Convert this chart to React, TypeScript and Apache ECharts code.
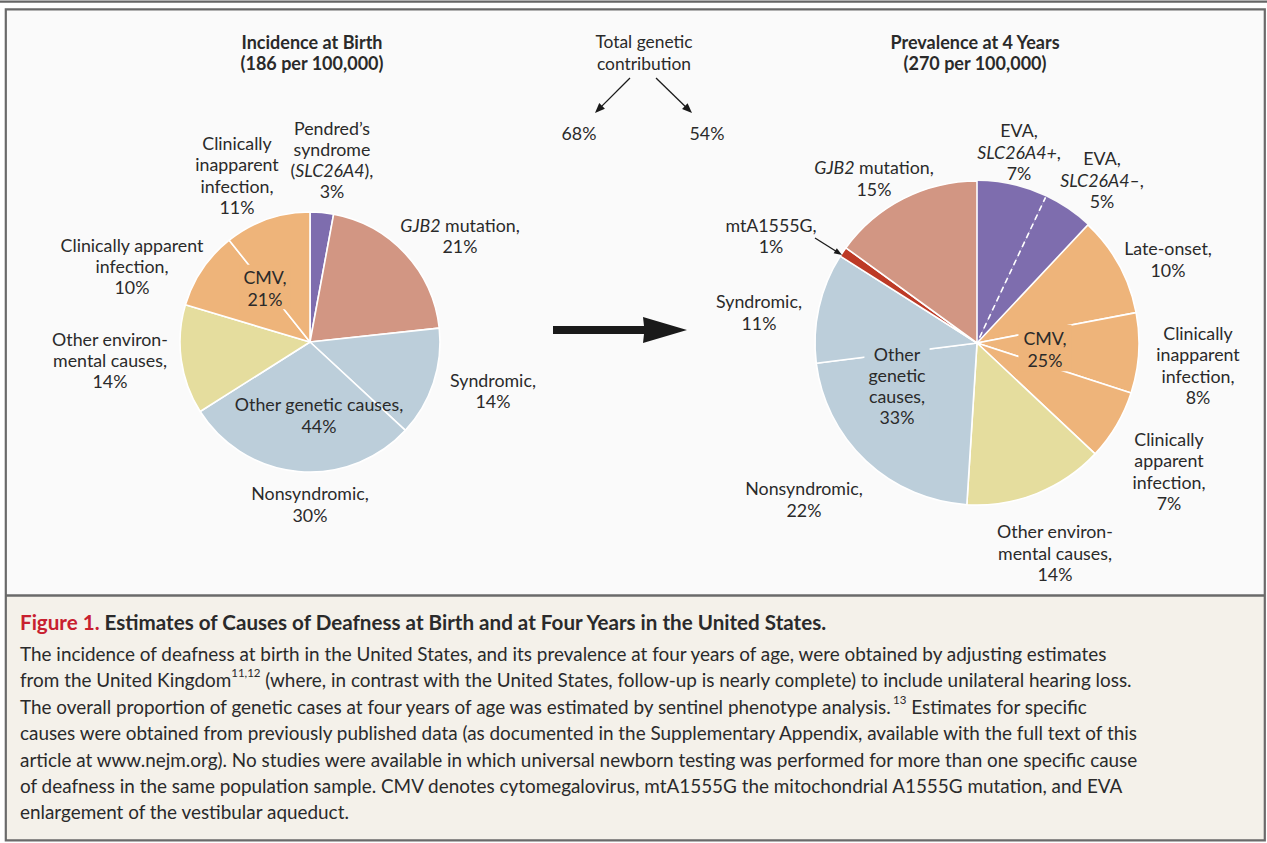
import React, { useEffect, useRef } from 'react';
import * as echarts from 'echarts';

const W = 1267;
const H = 843;
const FONT = 'Lato, "Open Sans", sans-serif';
const INK = '#2a2a2a';

// ---------- data ----------
const birthCategories = [
  'Pendred’s syndrome (SLC26A4)',
  'GJB2 mutation',
  'Syndromic',
  'Nonsyndromic',
  'Other environmental causes',
  'Clinically apparent infection',
  'Clinically inapparent infection',
];
const birthValues = [3, 21, 14, 30, 14, 10, 11];
const birthLabelLines = [
  ['Pendred’s', 'syndrome', '({i|SLC26A4}),'],
  ['{i|GJB2} mutation,'],
  ['Syndromic,'],
  ['Nonsyndromic,'],
  ['Other environ-', 'mental causes,'],
  ['Clinically apparent', 'infection,'],
  ['Clinically', 'inapparent', 'infection,'],
];
const birthGroupLabels = ['CMV,', 'Other genetic causes,'];
const birthGroupValues = [21, 44];

const yearCategories = [
  'EVA, SLC26A4+',
  'EVA, SLC26A4–',
  'Late-onset',
  'Clinically inapparent infection',
  'Clinically apparent infection',
  'Other environmental causes',
  'Nonsyndromic',
  'Syndromic',
  'mtA1555G',
  'GJB2 mutation',
];
const yearValues = [7, 5, 10, 8, 7, 14, 22, 11, 1, 15];
const yearLabelLines = [
  ['EVA,', '{i|SLC26A4+},'],
  ['EVA,', '{i|SLC26A4–},'],
  ['Late-onset,'],
  ['Clinically', 'inapparent', 'infection,'],
  ['Clinically', 'apparent', 'infection,'],
  ['Other environ-', 'mental causes,'],
  ['Nonsyndromic,'],
  ['Syndromic,'],
  ['mtA1555G,'],
  ['{i|GJB2} mutation,'],
];
const yearGroupLabels = ['CMV,', 'Other\ngenetic\ncauses,'];
const yearGroupValues = [25, 33];

const titles = ['Incidence at Birth\n(186 per 100,000)', 'Prevalence at 4 Years\n(270 per 100,000)'];
const totalGeneticLabel = 'Total genetic\ncontribution';
const totalGeneticValues = [68, 54];

const captionTitle = '{r|Figure 1.} Estimates of Causes of Deafness at Birth and at Four Years in the United States.';
const captionLines = [
  'The incidence of deafness at birth in the United States, and its prevalence at four years of age, were obtained by adjusting estimates',
  'from the United Kingdom{s|11,12} (where, in contrast with the United States, follow-up is nearly complete) to include unilateral hearing loss.',
  'The overall proportion of genetic cases at four years of age was estimated by sentinel phenotype analysis.{s|13} Estimates for specific',
  'causes were obtained from previously published data (as documented in the Supplementary Appendix, available with the full text of this',
  'article at www.nejm.org). No studies were available in which universal newborn testing was performed for more than one specific cause',
  'of deafness in the same population sample. CMV denotes cytomegalovirus, mtA1555G the mitochondrial A1555G mutation, and EVA',
  'enlargement of the vestibular aqueduct.',
];

// ---------- styles / layout ----------
const C = {
  purple: '#7E6DAE',
  salmon: '#D29683',
  blue: '#BCCEDA',
  yellow: '#E5DD9E',
  orange: '#EEB47A',
  red: '#BD3A26',
};
const birthColors = [C.purple, C.salmon, C.blue, C.blue, C.yellow, C.orange, C.orange];
const yearColors = [C.purple, C.purple, C.orange, C.orange, C.orange, C.yellow, C.blue, C.blue, C.red, C.salmon];

const birthPie = { cx: 310, cy: 342, r: 130 };
const yearPie = { cx: 977, cy: 343, r: 162 };

const birthLabelPos = [
  [332, 159.5], [460, 235.5], [493, 390.5], [310, 504], [110, 360], [132, 266], [237, 175],
];
const birthGroupPos = [[265, 287], [319, 415]];
const yearLabelPos = [
  [1019, 151.5], [1102, 179.5], [1168, 259], [1198, 365], [1169, 471], [1055, 552.5], [804, 499], [759, 312], [771, 235.5], [874, 178],
];
const yearGroupPos = [[1045, 348], [897, 385]];

const LH = 21.3;
const FS = 17.8;

const rich = {
  i: { fontStyle: 'italic', fontSize: FS, fontFamily: FONT, fill: INK, lineHeight: LH },
};

function label(x: number, y: number, text: string, extra: any = {}) {
  return {
    type: 'text',
    z: 100,
    silent: true,
    style: {
      text,
      x,
      y,
      align: 'center',
      verticalAlign: 'middle',
      fontSize: FS,
      fontFamily: FONT,
      fill: INK,
      lineHeight: LH,
      rich,
      ...extra,
    },
  };
}

function arrowHead(x1: number, y1: number, x2: number, y2: number, len: number, hw: number) {
  const dx = x2 - x1;
  const dy = y2 - y1;
  const d = Math.hypot(dx, dy);
  const ux = dx / d;
  const uy = dy / d;
  const bx = x2 - ux * len;
  const by = y2 - uy * len;
  return {
    type: 'polygon',
    z: 100,
    silent: true,
    shape: { points: [[x2, y2], [bx - uy * hw, by + ux * hw], [bx + uy * hw, by - ux * hw]] },
    style: { fill: '#1a1a1a' },
  };
}

function arrow(x1: number, y1: number, x2: number, y2: number, len = 10, hw = 4) {
  const dx = x2 - x1;
  const dy = y2 - y1;
  const d = Math.hypot(dx, dy);
  return [
    {
      type: 'line',
      z: 100,
      silent: true,
      shape: { x1, y1, x2: x2 - (dx / d) * (len - 1), y2: y2 - (dy / d) * (len - 1) },
      style: { stroke: '#1a1a1a', lineWidth: 1.3 },
    },
    arrowHead(x1, y1, x2, y2, len, hw),
  ];
}

function pieSeries(p: any, names: string[], values: number[], colors: string[], special?: (i: number) => any) {
  return {
    type: 'pie',
    center: [p.cx, p.cy],
    radius: [0, p.r],
    startAngle: 90,
    clockwise: true,
    silent: true,
    avoidLabelOverlap: false,
    label: { show: false },
    labelLine: { show: false },
    emphasis: { disabled: true },
    itemStyle: { borderColor: '#ffffff', borderWidth: 1.6 },
    z: 2,
    data: values.map((v, i) => ({
      name: names[i],
      value: v,
      itemStyle: { color: colors[i], ...(special ? special(i) : {}) },
    })),
  };
}

// dashed divider between the two EVA slices, at the angle given by the data
const yearTotal = yearValues.reduce((a, b) => a + b, 0);
const evaAngle = (yearValues[0] / yearTotal) * Math.PI * 2;
const evaDivider = {
  type: 'line',
  z: 50,
  silent: true,
  shape: {
    x1: yearPie.cx + Math.sin(evaAngle) * 6,
    y1: yearPie.cy - Math.cos(evaAngle) * 6,
    x2: yearPie.cx + Math.sin(evaAngle) * (yearPie.r - 1),
    y2: yearPie.cy - Math.cos(evaAngle) * (yearPie.r - 1),
  },
  style: { stroke: '#ffffff', lineWidth: 1.6, lineDash: [6, 4] },
};

const graphics: any[] = [
  // page top rule
  { type: 'rect', z: 0, silent: true, shape: { x: 0, y: 0.5, width: W, height: 2.2 }, style: { fill: '#666666' } },
  // chart area
  { type: 'rect', z: 0, silent: true, shape: { x: 6, y: 9.5, width: 1259, height: 586 }, style: { fill: '#FAFAFA' } },
  // caption area
  { type: 'rect', z: 0, silent: true, shape: { x: 6, y: 595.5, width: 1259, height: 245 }, style: { fill: '#F4F1EA' } },
  // frame
  {
    type: 'rect', z: 101, silent: true,
    shape: { x: 5.8, y: 9.3, width: 1259, height: 831 },
    style: { fill: 'none', stroke: '#6a6a6a', lineWidth: 2.2 },
  },
  {
    type: 'line', z: 101, silent: true,
    shape: { x1: 6, y1: 595.5, x2: 1265, y2: 595.5 },
    style: { stroke: '#6a6a6a', lineWidth: 2.4 },
  },
  evaDivider,
  // titles
  label(312, 52.5, titles[0], { fontWeight: 'bold', fontSize: 18 }),
  label(975, 52.5, titles[1], { fontWeight: 'bold', fontSize: 18 }),
  label(644, 52.5, totalGeneticLabel, { fontSize: 17.4 }),
  label(579, 133, `${totalGeneticValues[0]}%`),
  label(707, 133, `${totalGeneticValues[1]}%`),
  ...arrow(630, 78, 595, 113),
  ...arrow(656, 78, 692, 113),
  // big arrow
  {
    type: 'polygon', z: 100, silent: true,
    shape: { points: [[553, 326], [644, 326], [643, 317], [687, 330], [643, 343], [644, 334], [553, 334]] },
    style: { fill: '#1a1a1a' },
  },
  // mtA1555G pointer
  ...arrow(815, 238, 842, 255, 8, 3),
];

birthLabelLines.forEach((lines, i) => {
  graphics.push(label(birthLabelPos[i][0], birthLabelPos[i][1], [...lines, `${birthValues[i]}%`].join('\n')));
});
yearLabelLines.forEach((lines, i) => {
  graphics.push(label(yearLabelPos[i][0], yearLabelPos[i][1], [...lines, `${yearValues[i]}%`].join('\n')));
});
graphics.push(
  label(birthGroupPos[0][0], birthGroupPos[0][1], `${birthGroupLabels[0]}\n${birthGroupValues[0]}%`, {
    backgroundColor: C.orange, padding: [2, 4, 0, 4],
  }),
);
graphics.push(label(birthGroupPos[1][0], birthGroupPos[1][1], `${birthGroupLabels[1]}\n${birthGroupValues[1]}%`));
graphics.push(
  label(yearGroupPos[0][0], yearGroupPos[0][1], `${yearGroupLabels[0]}\n${yearGroupValues[0]}%`, {
    backgroundColor: C.orange, padding: [3, 5, 1, 5],
  }),
);
graphics.push(
  label(yearGroupPos[1][0], yearGroupPos[1][1], `${yearGroupLabels[1]}\n${yearGroupValues[1]}%`, {
    backgroundColor: C.blue, padding: [1, 4, 0, 4],
  }),
);

// caption
const CAP_FS = 18.9;
const CAP_TITLE_FS = 20.6;
graphics.push({
  type: 'text', z: 100, silent: true,
  style: {
    text: captionTitle, x: 20, y: 622, align: 'left', verticalAlign: 'middle',
    fontSize: CAP_TITLE_FS, fontFamily: FONT, fontWeight: 'bold', fill: INK, lineHeight: 26,
    rich: {
      r: { fontSize: CAP_TITLE_FS, fontFamily: FONT, fontWeight: 'bold', fill: '#C8202F', lineHeight: 26 },
    },
  },
});
captionLines.forEach((t, i) => {
  graphics.push({
    type: 'text', z: 100, silent: true,
    style: {
      text: t, x: 20, y: 653.5 + i * 26.4, align: 'left', verticalAlign: 'middle',
      fontSize: CAP_FS, fontFamily: FONT, fill: INK, lineHeight: 26,
      rich: {
        s: { fontSize: 11.5, fontFamily: FONT, fill: INK, lineHeight: 21, verticalAlign: 'top' },
      },
    },
  });
});

const option: any = {
  animation: false,
  backgroundColor: '#ffffff',
  series: [
    pieSeries(birthPie, birthCategories, birthValues, birthColors),
    pieSeries(yearPie, yearCategories, yearValues, yearColors, (i) => {
      if (i === 0 || i === 1) return { borderWidth: 0 };
      return {};
    }),
  ],
  graphic: { elements: graphics },
};

export default function App() {
  const ref = useRef<HTMLDivElement>(null);
  useEffect(() => {
    const chart = echarts.init(ref.current as HTMLDivElement, null, { renderer: 'svg' });
    chart.setOption(option);
    return () => chart.dispose();
  }, []);
  return <div ref={ref} style={{ position: 'fixed', left: 0, top: 0, width: W, height: H }} />;
}
